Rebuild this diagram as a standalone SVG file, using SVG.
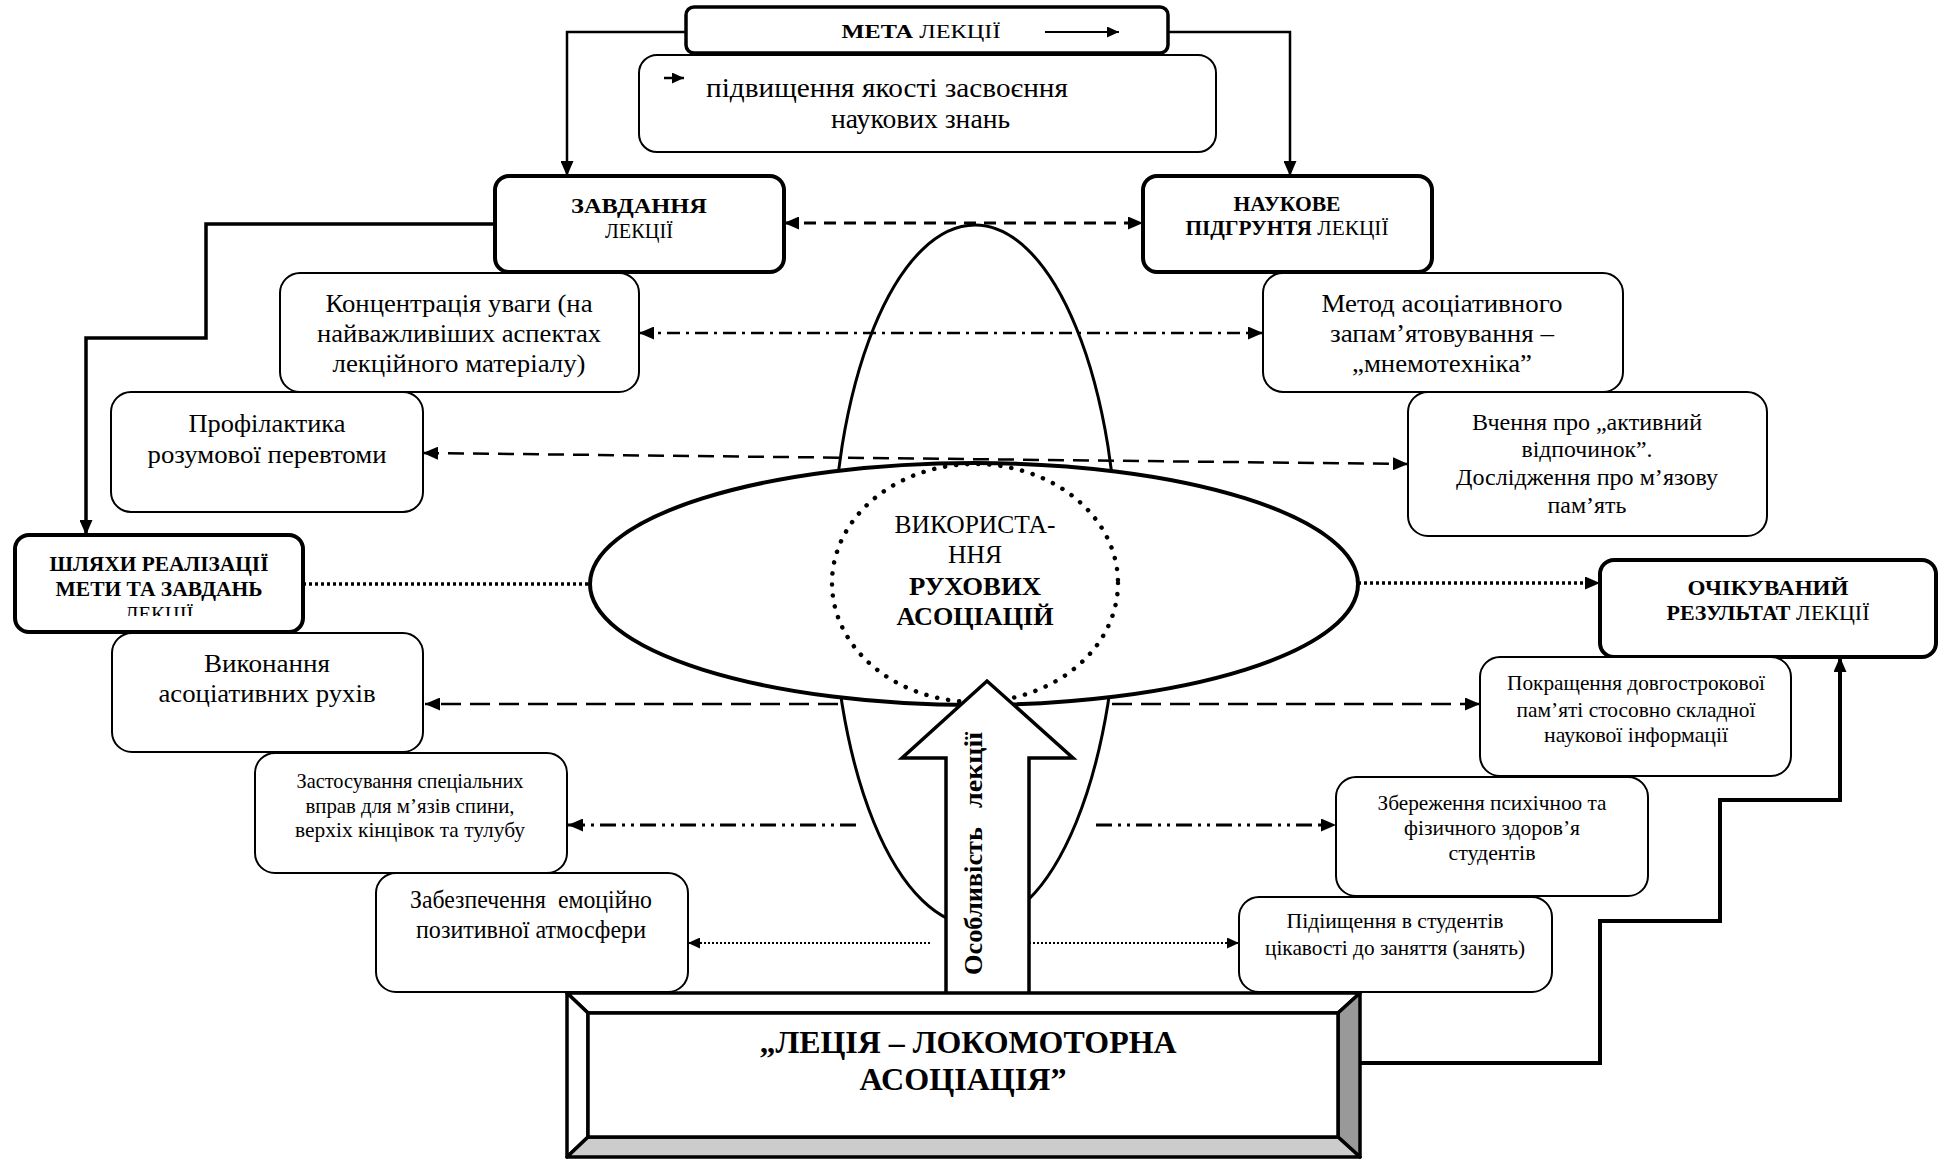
<svg xmlns="http://www.w3.org/2000/svg" width="1939" height="1160" viewBox="0 0 1939 1160">
<style>
.box{fill:#fff;stroke:#000;stroke-width:2}
.hbox{fill:#fff;stroke:#000;stroke-width:4}
.t{font-family:"Liberation Serif","Times New Roman",serif;text-anchor:middle;fill:#000}
.b{font-weight:bold}
.ln{fill:none;stroke:#000}
</style>
<defs>
<marker id="ah" markerUnits="userSpaceOnUse" markerWidth="15" markerHeight="13" refX="15" refY="6.5" orient="auto-start-reverse" viewBox="0 0 15 13"><path d="M0,0 L15,6.5 L0,13 z" fill="#000"/></marker>
<marker id="ahs" markerUnits="userSpaceOnUse" markerWidth="12" markerHeight="11" refX="12" refY="5.5" orient="auto-start-reverse" viewBox="0 0 12 11"><path d="M0,0 L12,5.5 L0,11 z" fill="#000"/></marker>
<clipPath id="clipL"><rect x="15" y="600" width="288" height="16"/></clipPath>
</defs>

<g id="connectors">
<path class="ln" d="M686,32 H567 V176" stroke-width="2.5" marker-end="url(#ah)"/>
<path class="ln" d="M1168,32 H1290 V176" stroke-width="2.5" marker-end="url(#ah)"/>
<path class="ln" d="M784,223 H1143" stroke-width="3" stroke-dasharray="12 8" marker-start="url(#ah)" marker-end="url(#ah)"/>
<path class="ln" d="M495,224 H206 V338 H86 V535" stroke-width="3.5" marker-end="url(#ah)"/>
<path class="ln" d="M639,333 H1263" stroke-width="2.5" stroke-dasharray="13 6 3 6" marker-start="url(#ah)" marker-end="url(#ah)"/>
<path class="ln" d="M423,453 L1408,464" stroke-width="2.5" stroke-dasharray="16 9" marker-start="url(#ah)" marker-end="url(#ah)"/>
<path class="ln" d="M303,584 H590" stroke-width="3.5" stroke-dasharray="3 3"/>
<path class="ln" d="M1358,583 H1600" stroke-width="3.5" stroke-dasharray="3 3" marker-end="url(#ah)"/>
<path class="ln" d="M838,704 H425" stroke-width="2.5" stroke-dasharray="20 9" marker-end="url(#ah)"/>
<path class="ln" d="M1112,704 H1480" stroke-width="2.5" stroke-dasharray="20 9" marker-end="url(#ah)"/>
<path class="ln" d="M856,825 H568" stroke-width="3" stroke-dasharray="16 6 3 6 3 6" marker-end="url(#ah)"/>
<path class="ln" d="M1096,825 H1336" stroke-width="3" stroke-dasharray="16 6 3 6 3 6" marker-end="url(#ah)"/>
<path class="ln" d="M930,943 H688" stroke-width="2" stroke-dasharray="2 2" marker-end="url(#ahs)"/>
<path class="ln" d="M1025,943 H1239" stroke-width="2" stroke-dasharray="2 2" marker-end="url(#ahs)"/>
<path class="ln" d="M1360,1063 H1600 V921 H1720 V800 H1840 V657" stroke-width="4" marker-end="url(#ah)"/>
</g>

<g id="center">
<ellipse cx="975" cy="575" rx="143" ry="350" fill="none" stroke="#000" stroke-width="3"/>
<ellipse cx="974" cy="584" rx="384" ry="121" fill="#fff" stroke="#000" stroke-width="4"/>
<ellipse cx="975" cy="583" rx="143" ry="119" fill="none" stroke="#000" stroke-width="4.5" stroke-linecap="round" stroke-dasharray="0.1 11"/>
<text class="t" x="975" y="533" font-size="26" textLength="161" lengthAdjust="spacingAndGlyphs">ВИКОРИСТА-</text>
<text class="t" x="975" y="563" font-size="26" textLength="54" lengthAdjust="spacingAndGlyphs">ННЯ</text>
<text class="t b" x="975" y="595" font-size="26" textLength="132" lengthAdjust="spacingAndGlyphs">РУХОВИХ</text>
<text class="t b" x="975" y="625" font-size="26" textLength="157" lengthAdjust="spacingAndGlyphs">АСОЦІАЦІЙ</text>
</g>

<g id="arrow">
<path d="M946,993 V758 H902 L987,681 L1073,758 H1029 V993" fill="#fff" stroke="#000" stroke-width="3.5" stroke-linejoin="miter"/>
<text transform="translate(982,975) rotate(-90)" font-family="Liberation Serif, Times New Roman, serif" font-weight="bold" font-size="26"><tspan x="0" textLength="148" lengthAdjust="spacingAndGlyphs">Особливість</tspan><tspan x="167" textLength="76" lengthAdjust="spacingAndGlyphs">лекції</tspan></text>
</g>

<g id="lecture">
<polygon points="567,993 1360,993 1338,1013 588,1013" fill="#fff" stroke="#000" stroke-width="3.5" stroke-linejoin="round"/>
<polygon points="567,993 588,1013 588,1137 567,1157" fill="#fff" stroke="#000" stroke-width="3.5" stroke-linejoin="round"/>
<polygon points="1360,993 1338,1013 1338,1137 1360,1157" fill="#999" stroke="#000" stroke-width="3.5" stroke-linejoin="round"/>
<polygon points="588,1137 1338,1137 1360,1157 567,1157" fill="#ccc" stroke="#000" stroke-width="3.5" stroke-linejoin="round"/>
<rect x="588" y="1013" width="750" height="124" fill="#fff" stroke="#000" stroke-width="3.5"/>
<text class="t b" x="968" y="1053" font-size="31" textLength="417" lengthAdjust="spacingAndGlyphs">„ЛЕЦІЯ – ЛОКОМОТОРНА</text>
<text class="t b" x="963" y="1090" font-size="31" textLength="207" lengthAdjust="spacingAndGlyphs">АСОЦІАЦІЯ”</text>
</g>

<g id="goal">
<rect class="box" x="639" y="55" width="577" height="97" rx="18"/>
<path class="ln" d="M664,78 H684" stroke-width="2.5" marker-end="url(#ahs)"/>
<text class="t" x="706" y="97" font-size="27" style="text-anchor:start" textLength="362" lengthAdjust="spacingAndGlyphs">підвищення якості засвоєння</text>
<text class="t" x="831" y="128" font-size="27" style="text-anchor:start" textLength="179" lengthAdjust="spacingAndGlyphs">наукових знань</text>
</g>

<g id="meta">
<rect x="686" y="7" width="482" height="46" rx="8" fill="#fff" stroke="#000" stroke-width="3.5"/>
<text class="t" x="921" y="38" font-size="19" textLength="159" lengthAdjust="spacingAndGlyphs"><tspan class="b">МЕТА</tspan> ЛЕКЦІЇ</text>
<path class="ln" d="M1045,32 H1119" stroke-width="2" marker-end="url(#ahs)"/>
</g>

<g id="zavdannia">
<rect class="hbox" x="495" y="176" width="289" height="96" rx="14"/>
<text class="t b" x="639" y="213" font-size="21" textLength="136" lengthAdjust="spacingAndGlyphs">ЗАВДАННЯ</text>
<text class="t" x="639" y="238" font-size="21" textLength="68" lengthAdjust="spacingAndGlyphs">ЛЕКЦІЇ</text>
</g>

<g id="naukove">
<rect class="hbox" x="1143" y="176" width="289" height="96" rx="14"/>
<text class="t b" x="1287" y="211" font-size="21" textLength="107" lengthAdjust="spacingAndGlyphs">НАУКОВЕ</text>
<text class="t" x="1287" y="235" font-size="21" textLength="203" lengthAdjust="spacingAndGlyphs"><tspan class="b">ПІДГРУНТЯ</tspan> ЛЕКЦІЇ</text>
</g>

<g id="koncentracia">
<rect class="box" x="280" y="273" width="359" height="119" rx="20"/>
<text class="t" x="459" y="312" font-size="26" textLength="267" lengthAdjust="spacingAndGlyphs">Концентрація уваги (на</text>
<text class="t" x="459" y="342" font-size="26" textLength="284" lengthAdjust="spacingAndGlyphs">найважливіших аспектах</text>
<text class="t" x="459" y="372" font-size="26" textLength="253" lengthAdjust="spacingAndGlyphs">лекційного матеріалу)</text>
</g>

<g id="metod">
<rect class="box" x="1263" y="273" width="360" height="119" rx="20"/>
<text class="t" x="1442" y="312" font-size="26" textLength="241" lengthAdjust="spacingAndGlyphs">Метод асоціативного</text>
<text class="t" x="1442" y="342" font-size="26" textLength="224" lengthAdjust="spacingAndGlyphs">запам’ятовування –</text>
<text class="t" x="1442" y="372" font-size="26" textLength="180" lengthAdjust="spacingAndGlyphs">„мнемотехніка”</text>
</g>

<g id="profilaktyka">
<rect class="box" x="111" y="392" width="312" height="120" rx="20"/>
<text class="t" x="267" y="432" font-size="26" textLength="157" lengthAdjust="spacingAndGlyphs">Профілактика</text>
<text class="t" x="267" y="463" font-size="26" textLength="239" lengthAdjust="spacingAndGlyphs">розумової перевтоми</text>
</g>

<g id="vchennia">
<rect class="box" x="1408" y="392" width="359" height="144" rx="20"/>
<text class="t" x="1587" y="430" font-size="23" textLength="230" lengthAdjust="spacingAndGlyphs">Вчення про „активний</text>
<text class="t" x="1587" y="457" font-size="23" textLength="131" lengthAdjust="spacingAndGlyphs">відпочинок”.</text>
<text class="t" x="1587" y="485" font-size="23" textLength="262" lengthAdjust="spacingAndGlyphs">Дослідження про м’язову</text>
<text class="t" x="1587" y="513" font-size="23" textLength="79" lengthAdjust="spacingAndGlyphs">пам’ять</text>
</g>

<g id="shliakhy">
<rect class="hbox" x="15" y="535" width="288" height="97" rx="14"/>
<text class="t b" x="159" y="571" font-size="20" textLength="219" lengthAdjust="spacingAndGlyphs">ШЛЯХИ РЕАЛІЗАЦІЇ</text>
<text class="t b" x="159" y="596" font-size="20" textLength="207" lengthAdjust="spacingAndGlyphs">МЕТИ ТА ЗАВДАНЬ</text>
<text class="t" x="159" y="621" font-size="20" textLength="69" lengthAdjust="spacingAndGlyphs" clip-path="url(#clipL)">ЛЕКЦІЇ</text>
</g>

<g id="vykonannia">
<rect class="box" x="112" y="633" width="311" height="119" rx="20"/>
<text class="t" x="267" y="672" font-size="26" textLength="126" lengthAdjust="spacingAndGlyphs">Виконання</text>
<text class="t" x="267" y="702" font-size="26" textLength="217" lengthAdjust="spacingAndGlyphs">асоціативних рухів</text>
</g>

<g id="zastosuvannia">
<rect class="box" x="255" y="753" width="312" height="120" rx="20"/>
<text class="t" x="410" y="788" font-size="21" textLength="227" lengthAdjust="spacingAndGlyphs">Застосування спеціальних</text>
<text class="t" x="410" y="813" font-size="21" textLength="209" lengthAdjust="spacingAndGlyphs">вправ для м’язів спини,</text>
<text class="t" x="410" y="837" font-size="21" textLength="230" lengthAdjust="spacingAndGlyphs">верхіх кінцівок та тулубу</text>
</g>

<g id="zabezpechennia">
<rect class="box" x="376" y="873" width="312" height="119" rx="20"/>
<text class="t" x="531" y="908" font-size="25" textLength="242" lengthAdjust="spacingAndGlyphs" xml:space="preserve">Забезпечення  емоційно</text>
<text class="t" x="531" y="938" font-size="25" textLength="230" lengthAdjust="spacingAndGlyphs">позитивної атмосфери</text>
</g>

<g id="ochikuvanyi">
<rect class="hbox" x="1600" y="560" width="336" height="97" rx="14"/>
<text class="t b" x="1768" y="595" font-size="21" textLength="161" lengthAdjust="spacingAndGlyphs">ОЧІКУВАНИЙ</text>
<text class="t" x="1768" y="620" font-size="21" textLength="203" lengthAdjust="spacingAndGlyphs"><tspan class="b">РЕЗУЛЬТАТ</tspan> ЛЕКЦІЇ</text>
</g>

<g id="pokraschennia">
<rect class="box" x="1480" y="657" width="311" height="119" rx="20"/>
<text class="t" x="1636" y="690" font-size="22" textLength="258" lengthAdjust="spacingAndGlyphs">Покращення довгострокової</text>
<text class="t" x="1636" y="717" font-size="22" textLength="239" lengthAdjust="spacingAndGlyphs">пам’яті стосовно складної</text>
<text class="t" x="1636" y="742" font-size="22" textLength="184" lengthAdjust="spacingAndGlyphs">наукової інформації</text>
</g>

<g id="zberezhennia">
<rect class="box" x="1336" y="777" width="312" height="119" rx="20"/>
<text class="t" x="1492" y="810" font-size="21" textLength="229" lengthAdjust="spacingAndGlyphs">Збереження психічноо та</text>
<text class="t" x="1492" y="835" font-size="21" textLength="176" lengthAdjust="spacingAndGlyphs">фізичного здоров’я</text>
<text class="t" x="1492" y="860" font-size="21" textLength="87" lengthAdjust="spacingAndGlyphs">студентів</text>
</g>

<g id="pidvyshchennia">
<rect class="box" x="1239" y="897" width="313" height="95" rx="20"/>
<text class="t" x="1395" y="928" font-size="22" textLength="217" lengthAdjust="spacingAndGlyphs">Підіищення в студентів</text>
<text class="t" x="1395" y="955" font-size="22" textLength="260" lengthAdjust="spacingAndGlyphs">цікавості до заняття (занять)</text>
</g>
</svg>
